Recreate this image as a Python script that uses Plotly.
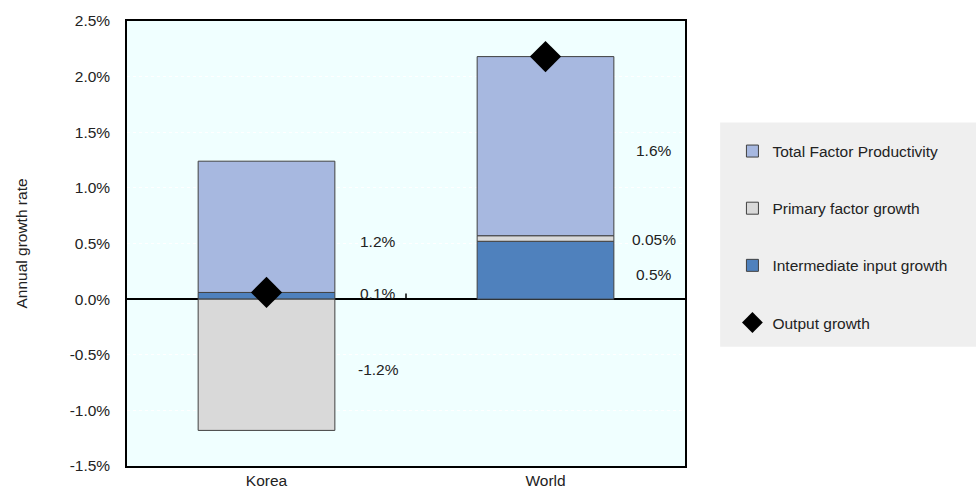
import plotly.graph_objects as go

categories = ["Korea", "World"]
intermediate = [0.06, 0.52]
primary = [-1.18, 0.05]
tfp = [1.18, 1.61]
output = [0.06, 2.18]

# value labels (text, category position, y position)
label_text = ["1.2%", "0.1%", "-1.2%", "1.6%", "0.05%", "0.5%"]
label_x = [0.40, 0.40, 0.40, 1.39, 1.39, 1.39]
label_y = [0.52, 0.05, -0.63, 1.34, 0.54, 0.22]

tick_vals = [-1.5, -1.0, -0.5, 0.0, 0.5, 1.0, 1.5, 2.0, 2.5]
tick_text = ["-1.5%", "-1.0%", "-0.5%", "0.0%", "0.5%", "1.0%", "1.5%", "2.0%", "2.5%"]

FONT = "Liberation Sans, Arial, sans-serif"
FS = 15.5
edge = dict(color="#404040", width=1)

fig = go.Figure()
fig.add_trace(go.Bar(x=[0, 1], y=intermediate, name="Intermediate input growth",
                     marker=dict(color="#4F81BD", line=edge), legendrank=3))
fig.add_trace(go.Bar(x=[0, 1], y=primary, name="Primary factor growth",
                     marker=dict(color="#D9D9D9", line=edge), legendrank=2))
fig.add_trace(go.Bar(x=[0, 1], y=tfp, name="Total Factor Productivity",
                     marker=dict(color="#A7B8E0", line=edge), legendrank=1))
fig.add_trace(go.Scatter(x=[0, 1], y=output, name="Output growth", mode="markers",
                         marker=dict(symbol="diamond", size=24, color="black"),
                         legendrank=4))

for t, x, y in zip(label_text, label_x, label_y):
    fig.add_annotation(x=x, y=y, text=t, showarrow=False, xref="x", yref="y",
                       font=dict(family=FONT, size=FS, color="#222"))

# divider tick between categories on the zero line
fig.add_shape(type="line", xref="x", yref="y", x0=0.5, x1=0.5, y0=0, y1=0.05,
              line=dict(color="black", width=1.5))

# legend background box
fig.add_shape(type="rect", xref="paper", yref="paper", x0=1.063, x1=1.53,
              y0=0.268, y1=0.772, fillcolor="#EFEFEF", line=dict(width=0), layer="below")

fig.update_layout(
    width=976, height=501,
    margin=dict(l=127, r=291, t=21, b=24),
    paper_bgcolor="white", plot_bgcolor="#F0FFFF",
    barmode="relative", bargap=0.51,
    font=dict(family=FONT, size=FS, color="#222"),
    showlegend=True,
    legend=dict(x=1.085, y=0.745, xanchor="left", yanchor="top",
                bgcolor="rgba(0,0,0,0)", font=dict(family=FONT, size=FS, color="#222"),
                tracegroupgap=34, itemwidth=30),
)
fig.update_xaxes(range=[-0.5, 1.5], tickvals=[0, 1], ticktext=categories,
                 showline=True, linecolor="black", linewidth=1.5, mirror=True,
                 showgrid=False, ticks="", tickfont=dict(size=FS))
fig.update_yaxes(range=[-1.5, 2.5], tickvals=tick_vals, ticktext=tick_text,
                 showline=True, linecolor="black", linewidth=1.5, mirror=True,
                 showgrid=True, gridcolor="white", griddash="dot", gridwidth=1,
                 zeroline=True, zerolinecolor="black", zerolinewidth=1.5,
                 ticks="", ticklabelstandoff=12, tickfont=dict(size=FS),
                 title=dict(text="Annual growth rate", font=dict(size=FS), standoff=38))

fig.update_layout(legend_groupclick="toggleitem")
for tr in fig.data:
    tr.legendgroup = tr.name

fig.write_html("out.html")
